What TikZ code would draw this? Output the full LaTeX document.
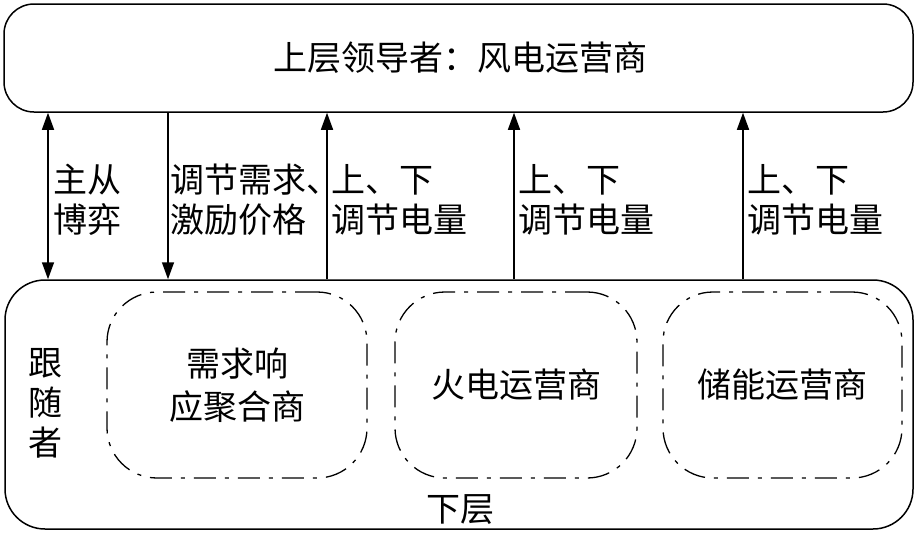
\documentclass[tikz,border=0pt]{standalone}
\usepackage{fontspec}
\newfontfamily\cjk{Noto Sans CJK SC}
\usetikzlibrary{arrows.meta}
\tikzset{
  txt/.style={font=\cjk\fontsize{34}{40}\selectfont, inner sep=0pt},
  layerbox/.style={draw, line width=1.5pt, rounded corners=#1, inner sep=0pt},
  agentbox/.style={draw, line width=1.3pt, rounded corners=50pt, dash pattern=on 22pt off 9pt on 4pt off 9pt, inner sep=0pt, align=center, font=\cjk\fontsize{34}{43}\selectfont},
  conn/.style={line width=1.5pt},
  tip/.style={-{Triangle[width=12pt,length=17pt]}},
}
\begin{document}
\begin{tikzpicture}[x=1pt,y=-1pt]
\useasboundingbox (0,0) rectangle (917,533);
% boxes
\node[layerbox=30pt, minimum width=909pt, minimum height=108pt] (top) at (458.5,58) {};
\node[txt] (toplabel) at (460,58) {上层领导者：风电运营商};
\node[layerbox=40pt, minimum width=908pt, minimum height=249pt] (bot) at (459,404.5) {};
\node[agentbox, minimum width=260pt, minimum height=186pt] (dr) at (237,385) {需求响\\应聚合商};
\node[agentbox, minimum width=242pt, minimum height=186pt] (th) at (516,385) {火电运营商};
\node[agentbox, minimum width=239pt, minimum height=186pt] (es) at (782.5,385) {储能运营商};
\node[txt, align=center] (follower) at (45,403) {跟\\随\\者};
\node[txt] (lower) at (460,510) {下层};
% connectors
\draw[conn, {Triangle[width=12pt,length=17pt]}-{Triangle[width=12pt,length=17pt]}] (48,0 |- top.south) -- (48,0 |- bot.north);
\draw[conn, tip] (168,0 |- top.south) -- (168,0 |- bot.north);
\draw[conn, tip] (327,0 |- bot.north) -- (327,0 |- top.south);
\draw[conn, tip] (514,0 |- bot.north) -- (514,0 |- top.south);
\draw[conn, tip] (743,0 |- bot.north) -- (743,0 |- top.south);
% labels
\node[txt, align=left, anchor=west] (l1) at (53,200) {主从\\博弈};
\node[txt, align=left, anchor=west] (l2) at (170,200) {调节需求、\\激励价格};
\node[txt, align=left, anchor=west] (l3) at (331,200) {上、下\\调节电量};
\node[txt, align=left, anchor=west] (l4) at (518,200) {上、下\\调节电量};
\node[txt, align=left, anchor=west] (l5) at (747,200) {上、下\\调节电量};
\end{tikzpicture}
\end{document}
